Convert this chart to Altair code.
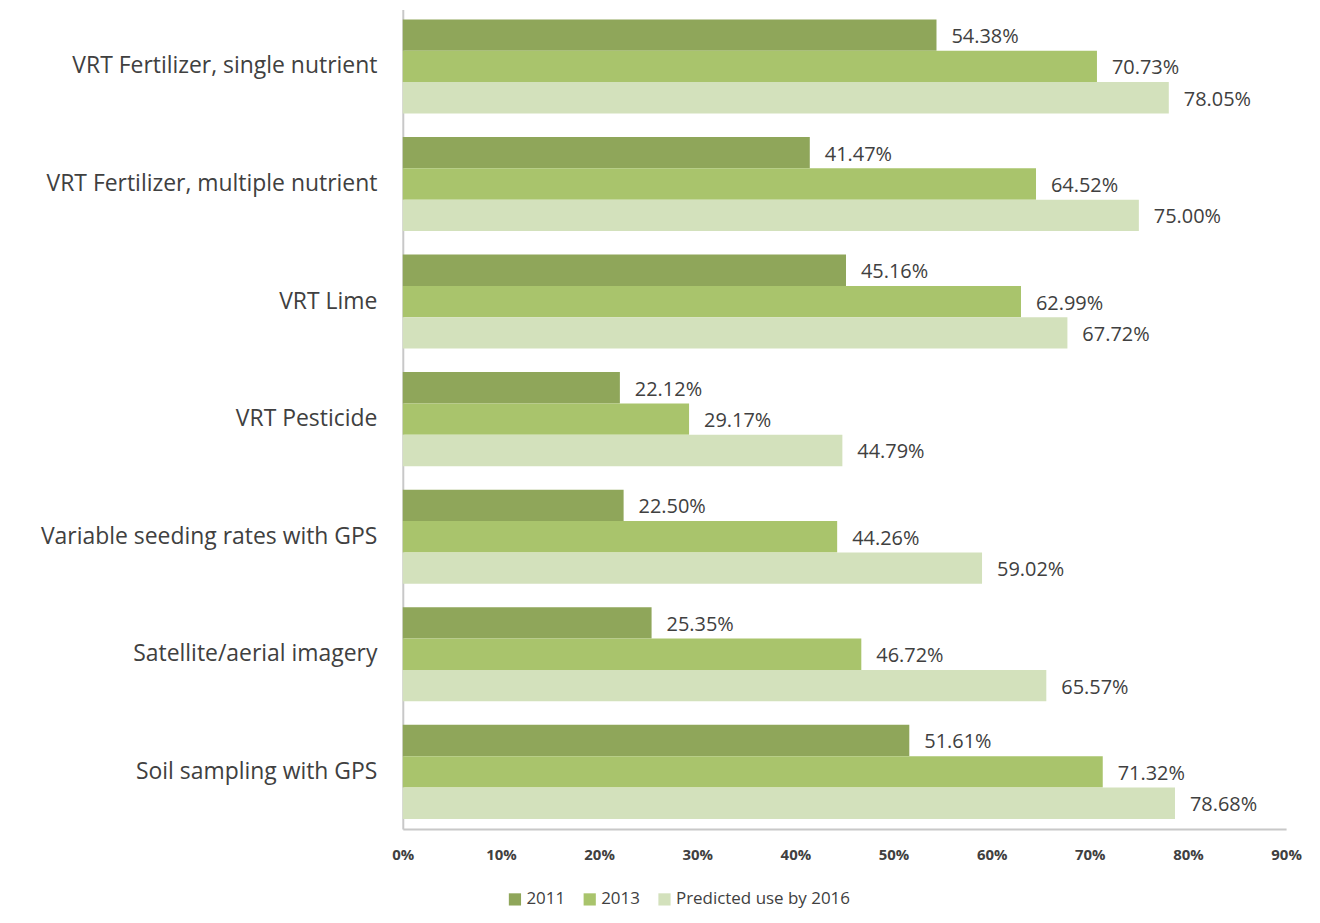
import altair as alt
import pandas as pd

categories = [
    "VRT Fertilizer, single nutrient",
    "VRT Fertilizer, multiple nutrient",
    "VRT Lime",
    "VRT Pesticide",
    "Variable seeding rates with GPS",
    "Satellite/aerial imagery",
    "Soil sampling with GPS",
]
series = ["2011", "2013", "Predicted use by 2016"]
v2011 = [54.38, 41.47, 45.16, 22.12, 22.50, 25.35, 51.61]
v2013 = [70.73, 64.52, 62.99, 29.17, 44.26, 46.72, 71.32]
v2016 = [78.05, 75.00, 67.72, 44.79, 59.02, 65.57, 78.68]
colors = ["#8fa65a", "#a9c46c", "#d3e1bc"]

rows = []
for i, c in enumerate(categories):
    for s, vals in zip(series, [v2011, v2013, v2016]):
        rows.append({"category": c, "series": s, "value": vals[i],
                     "label": f"{vals[i]:.2f}%"})
df = pd.DataFrame(rows)

FONT = "Open Sans"

y = alt.Y("category:N", sort=categories, title=None,
          scale=alt.Scale(paddingInner=0.2, paddingOuter=0.085),
          axis=alt.Axis(ticks=False, labelFontSize=23, labelColor="#404040",
                        labelFont=FONT, labelPadding=26, domainColor="#c8c8c8",
                        domainWidth=2, labelLimit=400))
x = alt.X("value:Q", title=None,
          scale=alt.Scale(domain=[0, 90], nice=False),
          axis=alt.Axis(values=[0, 10, 20, 30, 40, 50, 60, 70, 80, 90],
                        labelExpr="datum.value + '%'", grid=False, ticks=False,
                        labelFlush=False,
                        labelFontSize=15, labelFontWeight="bold",
                        labelColor="#404040", labelFont=FONT, labelPadding=19,
                        domainColor="#c8c8c8", domainWidth=2))
yoff = alt.YOffset("series:N", sort=series)

bars = alt.Chart(df).mark_bar().encode(
    y=y, x=x, yOffset=yoff,
    color=alt.Color("series:N", sort=series,
                    scale=alt.Scale(domain=series, range=colors),
                    legend=alt.Legend(title=None, orient="none", legendX=104,
                                      legendY=884, direction="horizontal",
                                      symbolType="square", symbolSize=150,
                                      symbolStrokeWidth=0, labelFontSize=17,
                                      labelFont=FONT, labelColor="#404040",
                                      labelLimit=300,
                                      columnPadding=16, labelOffset=3)),
)
text = alt.Chart(df).mark_text(align="left", baseline="middle", dx=15, dy=2,
                               fontSize=20, font=FONT, color="#404040").encode(
    y=alt.Y("category:N", sort=categories), x="value:Q", yOffset=yoff,
    text="label:N",
)

chart = (bars + text).properties(
    width=886, height=822,
    autosize=alt.AutoSizeParams(type="none"),
    padding={"left": 396, "top": 0, "right": 26, "bottom": 93},
    background="white",
).configure_view(stroke=None)

chart.save("out.html", embed_options={"renderer": "svg", "actions": False})
